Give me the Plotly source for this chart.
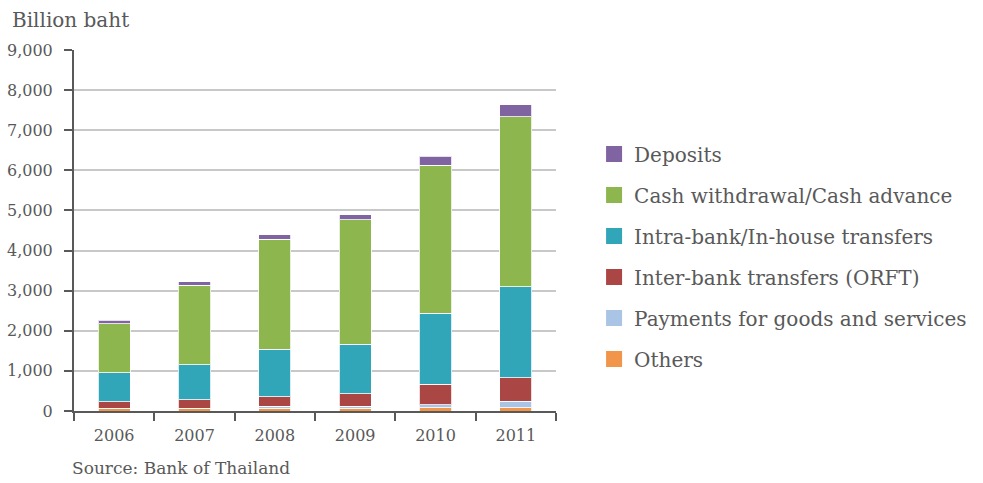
import plotly.graph_objects as go

# Value of ATM / debit-card transactions by type, billion baht
years = ["2006", "2007", "2008", "2009", "2010", "2011"]

others = [65, 65, 70, 70, 75, 75]
payments = [5, 5, 45, 50, 85, 165]
inter_bank = [160, 210, 240, 315, 505, 585]
intra_bank = [720, 875, 1180, 1227, 1766, 2270]
cash_withdrawal = [1230, 1979, 2744, 3109, 3690, 4245]
deposits = [85, 92, 116, 124, 230, 290]

series = [
    ("Others", others, "#f0954a"),
    ("Payments for goods and services", payments, "#a9c4e4"),
    ("Inter-bank transfers (ORFT)", inter_bank, "#aa4644"),
    ("Intra-bank/In-house transfers", intra_bank, "#31a6b8"),
    ("Cash withdrawal/Cash advance", cash_withdrawal, "#8db64f"),
    ("Deposits", deposits, "#8064a2"),
]

FONT = "DejaVu Serif"
TEXT = "#595959"
AXIS = "#595959"

fig = go.Figure()

for name, vals, color in series:
    fig.add_trace(go.Bar(
        x=years, y=vals, name=name,
        marker=dict(color=color, line=dict(color="rgba(255,255,255,0.8)", width=1)),
        showlegend=False,
    ))

# legend entries with larger square swatches, top of the stack listed first
for i, (name, vals, color) in enumerate(reversed(series)):
    fig.add_trace(go.Scatter(
        x=[None], y=[None], mode="markers", name=name,
        marker=dict(symbol="square", size=16, color=color),
        legendgroup="g%d" % i,
        showlegend=True,
    ))

fig.update_layout(
    width=983, height=483,
    barmode="stack", bargap=0.6,
    plot_bgcolor="white", paper_bgcolor="white",
    margin=dict(l=74, r=427, t=50, b=72, autoexpand=False),
    font=dict(family=FONT, color=TEXT, size=16),
    legend=dict(
        x=1.079, xanchor="left", y=0.766, yanchor="top",
        traceorder="grouped", tracegroupgap=12,
        font=dict(family=FONT, size=20, color=TEXT),
        itemwidth=30,
    ),
    xaxis=dict(
        type="category", automargin=False,
        showline=True, linecolor=AXIS, linewidth=2,
        ticks="outside", tickson="boundaries", ticklen=8, tickwidth=2, tickcolor=AXIS,
        tickfont=dict(family=FONT, size=16, color=TEXT),
        ticklabelstandoff=9,
        showgrid=False,
    ),
    yaxis=dict(
        range=[0, 9000], dtick=1000, tickformat=",", automargin=False,
        showline=True, linecolor=AXIS, linewidth=2,
        ticks="outside", ticklen=8, tickwidth=2, tickcolor=AXIS,
        tickfont=dict(family=FONT, size=16, color=TEXT),
        ticklabelstandoff=8,
        showgrid=True, gridcolor="#c8c8c8", gridwidth=1.5,
        zeroline=False,
    ),
    annotations=[
        dict(text="Billion baht", xref="paper", yref="paper",
             x=(13 - 74) / 482, y=1 + 30 / 361, xanchor="left", yanchor="middle",
             xshift=-3, showarrow=False, font=dict(family=FONT, size=20, color=TEXT)),
        dict(text="Source: Bank of Thailand", xref="paper", yref="paper",
             x=0, y=-57 / 361, xanchor="left", yanchor="middle",
             xshift=-4, showarrow=False, font=dict(family=FONT, size=17, color=TEXT)),
    ],
)

fig.write_html("out.html")
